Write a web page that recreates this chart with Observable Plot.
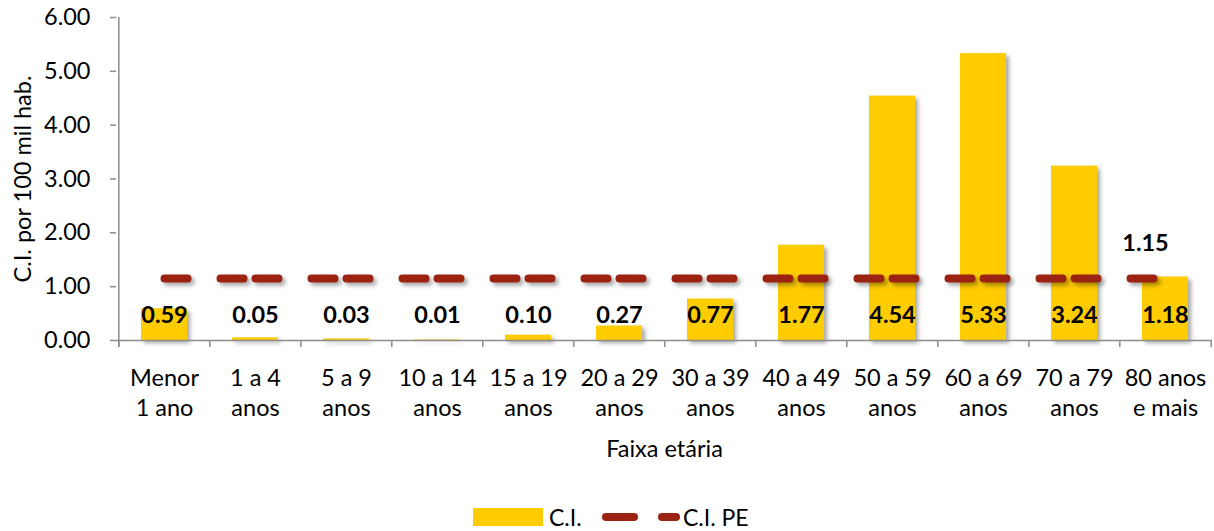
<!DOCTYPE html>
<html>
<head>
<meta charset="utf-8">
<script src="https://cdn.jsdelivr.net/npm/d3@7"></script>
<script src="https://cdn.jsdelivr.net/npm/@observablehq/plot@0.6"></script>
<style>
  body { margin: 0; background: #fff; font-family: Lato, sans-serif; }
  #wrap { position: relative; width: 1214px; height: 531px; }
  g[aria-label="bar"], g[aria-label="line"] { filter: drop-shadow(3px 3px 2px rgba(0,0,0,0.35)); }
  #legend { position: absolute; left: 0; top: 503px; width: 1214px; height: 28px; font-size: 23px; color: #000; }
  #legend .item { position: absolute; top: 0; display: flex; align-items: center; height: 28px; }
</style>
</head>
<body>
<div id="wrap">
  <div id="chart"></div>
  <div id="legend"></div>
</div>
<script>
const categories = ["Menor 1 ano", "1 a 4 anos", "5 a 9 anos", "10 a 14 anos", "15 a 19 anos", "20 a 29 anos", "30 a 39 anos", "40 a 49 anos", "50 a 59 anos", "60 a 69 anos", "70 a 79 anos", "80 anos e mais"];
const tickLabels = ["Menor\n1 ano", "1 a 4\nanos", "5 a 9\nanos", "10 a 14\nanos", "15 a 19\nanos", "20 a 29\nanos", "30 a 39\nanos", "40 a 49\nanos", "50 a 59\nanos", "60 a 69\nanos", "70 a 79\nanos", "80 anos\ne mais"];
const ciValues = [0.59, 0.05, 0.03, 0.01, 0.10, 0.27, 0.77, 1.77, 4.54, 5.33, 3.24, 1.18];
const ciPEValues = [1.15, 1.15, 1.15, 1.15, 1.15, 1.15, 1.15, 1.15, 1.15, 1.15, 1.15, 1.15];
const yTicks = [0, 1, 2, 3, 4, 5, 6];
const seriesNames = ["C.I.", "C.I. PE"];
const xTitle = "Faixa etária";
const yTitle = "C.I. por 100 mil hab.";

const barColor = "#FFCC00";
const lineColor = "#9C2212";
const axisColor = "#8c8c8c";
const FS = 23.5;

const data = categories.map((c, i) => ({cat: c, ci: ciValues[i], pe: ciPEValues[i], label: tickLabels[i]}));
const labelOf = new Map(data.map(d => [d.cat, d.label]));

const W = 1214, H = 490, mL = 116, mR = 2, mT = 17, mB = 150;
const step = (W - mL - mR) / categories.length;

const chart = Plot.plot({
  width: W, height: H,
  marginLeft: mL, marginRight: mR, marginTop: mT, marginBottom: mB,
  style: {fontFamily: "Lato, sans-serif", fontSize: FS + "px", color: "#000", background: "#fff", overflow: "visible"},
  x: {domain: categories, paddingInner: 0.5, paddingOuter: 0.25},
  y: {domain: [0, 6]},
  marks: [
    Plot.barY(data, {x: "cat", y: "ci", fill: barColor}),
    Plot.ruleY([0], {stroke: axisColor, strokeWidth: 1.5}),
    Plot.ruleX(categories, {x: d => d, dx: -step / 2, y1: 0, y2: -0.13, stroke: axisColor, strokeWidth: 1.5}),
    Plot.ruleX(categories.slice(-1), {x: d => d, dx: step / 2, y1: 0, y2: -0.13, stroke: axisColor, strokeWidth: 1.5}),
    Plot.ruleX(categories.slice(0, 1), {x: d => d, dx: -step / 2, y1: -0.13, y2: 6, stroke: axisColor, strokeWidth: 1.5}),
    Plot.axisY({ticks: yTicks, tickFormat: d => d.toFixed(2), tickSize: 6, tickPadding: 20, stroke: axisColor, strokeWidth: 1.5, fontSize: FS, label: null}),
    Plot.axisX({tickFormat: d => labelOf.get(d), tickSize: 0, tickPadding: 25, fontSize: FS, lineHeight: 1.25, label: xTitle, labelAnchor: "center", labelOffset: 116}),
    Plot.text([yTitle], {frameAnchor: "left", textAnchor: "middle", rotate: -90, dx: -93, fontSize: FS}),
    Plot.line(data, {x: "cat", y: "pe", stroke: lineColor, strokeWidth: 8, strokeDasharray: "23 33 23 12", strokeLinecap: "round"}),
    Plot.text(data, {x: "cat", y: 0, dy: -25, text: d => d.ci.toFixed(2), fontWeight: "bold", fontSize: FS}),
    Plot.text(data.slice(-1), {x: "cat", y: "pe", dy: -35, dx: -20, text: d => d.pe.toFixed(2), fontWeight: "bold", fontSize: FS})
  ]
});
document.getElementById("chart").appendChild(chart);

const legend = document.getElementById("legend");
legend.innerHTML = `
  <div class="item" style="left:473px"><svg width="70" height="18"><rect width="70" height="18" fill="${barColor}"/></svg><span style="margin-left:6px">${seriesNames[0]}</span></div>
  <div class="item" style="left:600px"><svg width="82" height="14"><line x1="6" y1="7" x2="34" y2="7" stroke="${lineColor}" stroke-width="8" stroke-linecap="round"/><line x1="62" y1="7" x2="76" y2="7" stroke="${lineColor}" stroke-width="8" stroke-linecap="round"/></svg><span style="margin-left:1px">${seriesNames[1]}</span></div>
`;
</script>
</body>
</html>
